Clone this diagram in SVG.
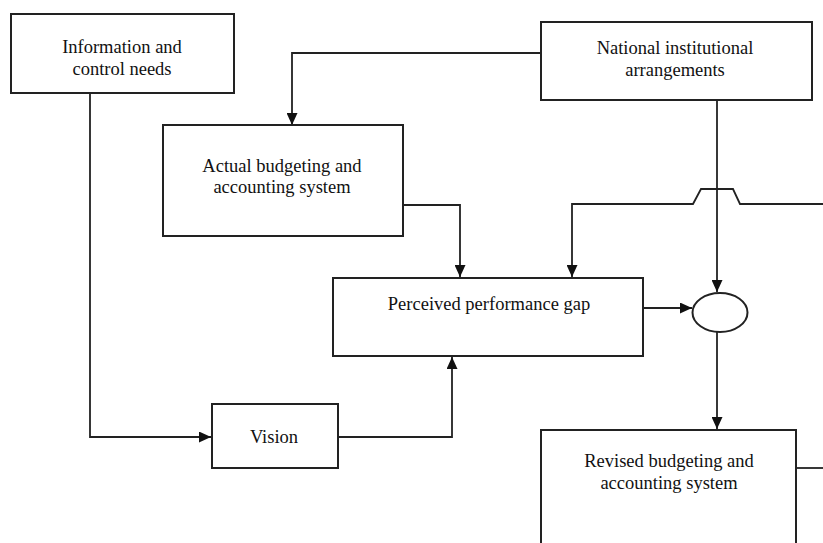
<svg xmlns="http://www.w3.org/2000/svg" width="823" height="543" viewBox="0 0 823 543">
<style>
.box{fill:#fff;stroke:#222;stroke-width:2}
.ln{fill:none;stroke:#222;stroke-width:1.8}
.t{font-family:"Liberation Serif","Times New Roman",serif;font-size:18.5px;fill:#111;text-anchor:middle}
</style>
<defs>
<marker id="ah" viewBox="0 0 12 11" refX="12" refY="5.5" markerWidth="12" markerHeight="11" markerUnits="userSpaceOnUse" orient="auto">
<path d="M0,0 L12,5.5 L0,11 z" fill="#111"/>
</marker>
</defs>
<rect width="823" height="543" fill="#fff"/>
<g id="connectors">
<polyline class="ln" points="90,93 90,437 211,437" marker-end="url(#ah)"/>
<polyline class="ln" points="541,53 292,53 292,125" marker-end="url(#ah)"/>
<polyline class="ln" points="403,205 460,205 460,277" marker-end="url(#ah)"/>
<polyline class="ln" points="823,204 740,204 733,189 701,189 693,204 572,204 572,277" marker-end="url(#ah)"/>
<polyline class="ln" points="338,437 452,437 452,357" marker-end="url(#ah)"/>
<polyline class="ln" points="643,308 692,308" marker-end="url(#ah)"/>
<polyline class="ln" points="717,100 717,292" marker-end="url(#ah)"/>
<polyline class="ln" points="717,332 717,429" marker-end="url(#ah)"/>
<polyline class="ln" points="796,468 823,468"/>
</g>
<g id="info">
<rect class="box" x="11" y="14" width="223" height="79"/>
<text class="t" x="122" y="53">Information and</text>
<text class="t" x="122" y="75">control needs</text>
</g>
<g id="national">
<rect class="box" x="541" y="22" width="271" height="78"/>
<text class="t" x="675" y="54">National institutional</text>
<text class="t" x="675" y="76">arrangements</text>
</g>
<g id="actual">
<rect class="box" x="163" y="125" width="240" height="111"/>
<text class="t" x="282" y="172">Actual budgeting and</text>
<text class="t" x="282" y="193">accounting system</text>
</g>
<g id="perceived">
<rect class="box" x="333" y="278" width="310" height="78"/>
<text class="t" x="489" y="310">Perceived performance gap</text>
</g>
<g id="junction">
<ellipse class="box" cx="720" cy="312.5" rx="27.5" ry="19.5"/>
</g>
<g id="vision">
<rect class="box" x="212" y="404" width="126" height="64"/>
<text class="t" x="274" y="443">Vision</text>
</g>
<g id="revised">
<rect class="box" x="541" y="430" width="255" height="120"/>
<text class="t" x="669" y="467">Revised budgeting and</text>
<text class="t" x="669" y="489">accounting system</text>
</g>
</svg>
